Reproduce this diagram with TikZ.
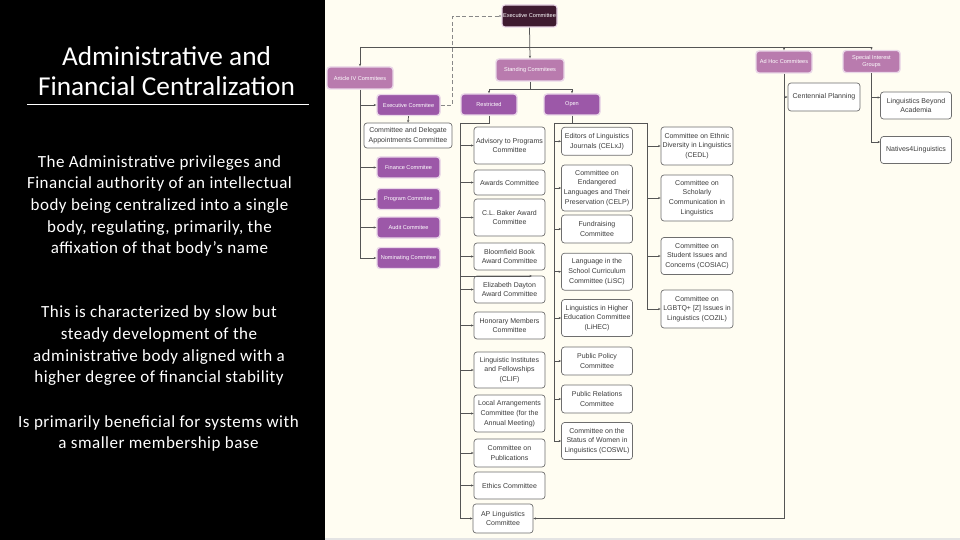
\documentclass[tikz,border=0pt]{standalone}
\usepackage{fontspec}
\setmainfont{Carlito}
\newfontfamily\bodyfam{Carlito}[LetterSpace=3]
\newfontfamily\lsans{Liberation Sans}
\usetikzlibrary{arrows.meta}
\definecolor{cream}{HTML}{FFFDF2}
\definecolor{greybar}{HTML}{E4E4E4}
\definecolor{topdark}{HTML}{3F1B30}
\definecolor{pinkc}{HTML}{B97BAE}
\definecolor{purpc}{HTML}{9C58A8}
\definecolor{glowc}{HTML}{EAD7E8}
\definecolor{boxgrey}{HTML}{6E6E6E}
\definecolor{txtgrey}{HTML}{3C3C3C}
\definecolor{linegrey}{HTML}{555555}
\newcommand\boxfnt{\lsans\fontsize{7}{9.8}\selectfont}
\newcommand\colfnt{\lsans\fontsize{5.6}{7}\selectfont}
\newcommand\titlefnt{\fontsize{27.3}{30}\selectfont}
\newcommand\bodyfnt{\bodyfam\fontsize{17}{21.7}\selectfont}
\tikzset{
  wbox/.style={draw=boxgrey, fill=white, rounded corners=3pt, line width=0.7pt,
    minimum width=71pt, inner sep=0pt, align=center, font=\boxfnt, text=txtgrey},
  pbox/.style={fill=purpc, draw=glowc, line width=1.4pt, rounded corners=3pt,
    text=white, font=\colfnt, inner sep=0pt, align=center, minimum width=63pt, minimum height=21pt},
  pkbox/.style={pbox, fill=pinkc},
  topbox/.style={pbox, fill=topdark, line width=1.1pt},
  conn/.style={draw=linegrey, line width=0.75pt, -{Stealth[length=2.6pt,width=2.2pt]}},
  bus/.style={draw=linegrey, line width=0.75pt},
  sidetext/.style={text=white, align=center, inner sep=0pt},
}
\begin{document}
\begin{tikzpicture}[x=1pt,y=-1pt]
\useasboundingbox (0,0) rectangle (960,540);
% panels
\fill[black] (0,0) rectangle (325,540);
\fill[cream] (325,0) rectangle (960,538);
\fill[greybar] (325,538) rectangle (960,540);

% left text
\node[sidetext, font=\titlefnt] (title) at (166.5,71) {Administrative and\\Financial Centralization};
\draw[white, line width=0.8pt] (27,104) -- (309,104);
\node[sidetext, font=\bodyfnt] (p1) at (159.5,206) {The Administrative privileges and\\Financial authority of an intellectual\\body being centralized into a single\\body, regulating, primarily, the\\affixation of that body’s name};
\node[sidetext, font=\bodyfnt] (p2) at (159,346) {This is characterized by slow but\\steady development of the\\administrative body aligned with a\\higher degree of financial stability};
\node[sidetext, font=\bodyfnt] (p3) at (158.5,433.4) {Is primarily beneficial for systems with\\a smaller membership base};

% top level
\node[topbox, minimum width=55pt, minimum height=22pt] (exec) at (529.5,16) {Executive Committee};
\node[pkbox, minimum width=66pt, minimum height=22pt] (art) at (360,78) {Article IV Commitees};
\node[pkbox, minimum width=68pt, minimum height=22pt] (stand) at (530,70) {Standing Commitees};
\node[pkbox, minimum width=56pt, minimum height=22pt] (adhoc) at (784,62) {Ad Hoc Commitees};
\node[pkbox, minimum width=57pt, minimum height=22pt] (sig) at (871.5,61.5) {Special Interest\\Groups};

% article IV children
\node[pbox] (exec2) at (408.5,105) {Executive Commitee};
\node[wbox, minimum width=88pt, minimum height=25pt] (cda) at (408,135.5) {Committee and Delegate\\Appointments Committee};
\node[pbox] (fin) at (408.5,167.5) {Finance Commitee};
\node[pbox] (prog) at (408.5,199) {Program Commitee};
\node[pbox] (audit) at (408.5,227.5) {Audit Commitee};
\node[pbox] (nom) at (408.5,258) {Nominating Commitee};

% standing
\node[pbox, minimum width=56pt] (restr) at (489,104.5) {Restricted};
\node[pbox, minimum width=56pt] (open) at (572,104.5) {Open};

% restricted column
\node[wbox, minimum height=37pt] (adv) at (509.5,145.5) {Advisory to Programs\\Committee};
\node[wbox, minimum height=25pt] (awd) at (509.5,182.5) {Awards Committee};
\node[wbox, minimum height=37pt] (clb) at (509.5,217.5) {C.L. Baker Award\\Committee};
\node[wbox, minimum height=27pt] (blm) at (509.5,256.5) {Bloomfield Book\\Award Committee};
\node[wbox, minimum height=27pt] (eliz) at (509.5,289.5) {Elizabeth Dayton\\Award Committee};
\node[wbox, minimum height=27pt] (hon) at (509.5,325.5) {Honorary Members\\Committee};
\node[wbox, minimum height=36pt] (clif) at (509.5,370) {Linguistic Institutes\\and Fellowships\\(CLIF)};
\node[wbox, minimum height=37pt] (local) at (509.5,413.5) {Local Arrangements\\Committee (for the\\Annual Meeting)};
\node[wbox, minimum height=28pt] (pub) at (509.5,453) {Committee on\\Publications};
\node[wbox, minimum height=27pt] (eth) at (509.5,485.5) {Ethics Committee};
\node[wbox, minimum width=60pt, minimum height=29pt] (ap) at (503,518.5) {AP Linguistics\\Committee};

% open column 1
\node[wbox, minimum height=28pt] (ed) at (597,141.3) {Editors of Linguistics\\Journals (CELxJ)};
\node[wbox, minimum height=46pt] (celp) at (597,188) {Committee on\\Endangered\\Languages and Their\\Preservation (CELP)};
\node[wbox, minimum height=28pt] (fund) at (597,229) {Fundraising\\Committee};
\node[wbox, minimum height=37pt] (lisc) at (597,271.7) {Language in the\\School Curriculum\\Committee (LiSC)};
\node[wbox, minimum height=37pt] (lihec) at (597,318) {Linguistics in Higher\\Education Committee\\(LiHEC)};
\node[wbox, minimum height=28pt] (ppol) at (597,361) {Public Policy\\Committee};
\node[wbox, minimum height=28pt] (prel) at (597,399) {Public Relations\\Committee};
\node[wbox, minimum height=37pt] (coswl) at (597,441) {Committee on the\\Status of Women in\\Linguistics (COSWL)};

% open column 2
\node[wbox, minimum width=72pt, minimum height=38pt] (cedl) at (697,146) {Committee on Ethnic\\Diversity in Linguistics\\(CEDL)};
\node[wbox, minimum width=72pt, minimum height=46pt] (schol) at (697,198) {Committee on\\Scholarly\\Communication in\\Linguistics};
\node[wbox, minimum width=72pt, minimum height=37pt] (cosiac) at (697,256) {Committee on\\Student Issues and\\Concerns (COSIAC)};
\node[wbox, minimum width=72pt, minimum height=38pt] (cozil) at (697,309) {Committee on\\LGBTQ+ [Z] Issues in\\Linguistics (COZIL)};

% ad hoc and SIG children
\node[wbox, minimum width=72pt, minimum height=28pt] (cent) at (824,97) {Centennial Planning};
\node[wbox, minimum height=27pt] (lba) at (916,105.5) {Linguistics Beyond\\Academia};
\node[wbox, minimum height=27pt] (nat) at (916,150) {Natives4Linguistics};

% coordinates
\coordinate (busL) at (360,47);
\coordinate (busR) at (871.5,47);
\coordinate (sj) at (530,89);
\coordinate (rb) at (460,123);
\coordinate (ob) at (554,123);
\coordinate (ob2) at (647,123);
\coordinate (ah) at (784,518.5);
\coordinate (ez) at (532,276);

% top connectors
\draw[bus] (busL) -- (busR);
\draw[conn] (exec.south) -- (stand.north);
\draw[conn] (busL) -- (art.north);
\draw[conn] (busL -| adhoc.north) -- (adhoc.north);
\draw[conn] (busR) -- (sig.north);
\draw[conn, draw=linegrey!70, dash pattern=on 4pt off 2.5pt] (exec2.east) -- ++(12,0) |- (exec.west);

% article IV
\draw[conn] (art.south) |- (nom.west);
\draw[conn] (art.south |- exec2.west) -- (exec2.west);
\draw[conn] (art.south |- fin.west) -- (fin.west);
\draw[conn] (art.south |- prog.west) -- (prog.west);
\draw[conn] (art.south |- audit.west) -- (audit.west);
\draw[conn] (exec2.south) -- (cda.north);

% standing
\draw[bus] (stand.south) -- (sj);
\draw[conn] (sj) -| (restr.north);
\draw[conn] (sj) -| (open.north);

% restricted
\draw[bus] (restr.south) |- (rb);
\draw[conn] (rb) |- (ap.west);
\foreach \n in {adv,awd,clb,blm,eliz,hon,clif,local,pub,eth}
  \draw[conn] (rb |- \n.west) -- (\n.west);
\draw[conn] (rb |- ez) -- (ez);

% open
\draw[bus] (open.south) |- (ob);
\draw[bus] (ob) -- (ob2);
\draw[conn] (ob) |- (coswl.west);
\foreach \n in {ed,celp,fund,lisc,lihec,ppol,prel}
  \draw[conn] (ob |- \n.west) -- (\n.west);
\draw[conn] (ob2) |- (cozil.west);
\foreach \n in {cedl,schol,cosiac}
  \draw[conn] (ob2 |- \n.west) -- (\n.west);

% ad hoc
\draw[bus] (adhoc.south) -- (ah);
\draw[conn] (ah) -- (ap.east);
\draw[conn] (adhoc.south |- cent.west) -- (cent.west);

% SIG
\draw[conn] (sig.south) |- ([yshift=8pt]nat.west);
\draw[conn] ([yshift=8pt]lba.west -| sig.south) -- ([yshift=8pt]lba.west);
\end{tikzpicture}
\end{document}
